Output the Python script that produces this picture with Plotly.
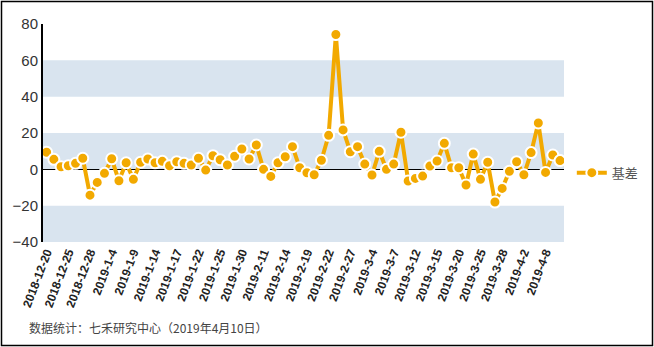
import plotly.graph_objects as go

dates = [
    "2018-12-20", "2018-12-21", "2018-12-24", "2018-12-25", "2018-12-26", "2018-12-27", "2018-12-28",
    "2019-1-2", "2019-1-3", "2019-1-4", "2019-1-7", "2019-1-8", "2019-1-9", "2019-1-10", "2019-1-11",
    "2019-1-14", "2019-1-15", "2019-1-16", "2019-1-17", "2019-1-18", "2019-1-21", "2019-1-22",
    "2019-1-23", "2019-1-24", "2019-1-25", "2019-1-28", "2019-1-29", "2019-1-30", "2019-1-31",
    "2019-2-1", "2019-2-11", "2019-2-12", "2019-2-13", "2019-2-14", "2019-2-15", "2019-2-18",
    "2019-2-19", "2019-2-20", "2019-2-21", "2019-2-22", "2019-2-25", "2019-2-26", "2019-2-27",
    "2019-2-28", "2019-3-1", "2019-3-4", "2019-3-5", "2019-3-6", "2019-3-7", "2019-3-8",
    "2019-3-11", "2019-3-12", "2019-3-13", "2019-3-14", "2019-3-15", "2019-3-18", "2019-3-19",
    "2019-3-20", "2019-3-21", "2019-3-22", "2019-3-25", "2019-3-26", "2019-3-27", "2019-3-28",
    "2019-3-29", "2019-4-1", "2019-4-2", "2019-4-3", "2019-4-4", "2019-4-8", "2019-4-9", "2019-4-10",
]

basis = [
    9.4, 5.5, 1.4, 2.0, 3.3, 6.1, -14.2, -7.2, -2.2, 5.8,
    -6.3, 3.6, -5.5, 3.9, 5.7, 3.6, 4.4, 2.0, 4.2, 3.3,
    2.4, 6.1, -0.4, 7.5, 5.3, 2.4, 7.2, 11.2, 5.7, 13.4,
    0.0, -3.9, 3.6, 6.9, 12.5, 0.9, -1.9, -3.0, 5.0, 18.7,
    74.2, 21.7, 9.7, 12.5, 2.9, -3.1, 9.9, 0.0, 2.9, 20.4,
    -6.4, -5.0, -3.7, 1.8, 4.6, 14.3, 0.9, 0.9, -8.6, 8.4,
    -5.5, 3.9, -18.0, -10.5, -1.1, 4.2, -3.0, 9.2, 25.5, -1.7,
    7.9, 4.8,
]

tick_labels = dates[0:70:3]
y_ticks = [-40, -20, 0, 20, 40, 60, 80]
bands = [(40, 60), (0, 20), (-40, -20)]

orange = "#F2A900"

fig = go.Figure()
fig.add_trace(go.Scatter(
    x=dates, y=basis, mode="lines+markers", name="基差",
    line=dict(color=orange, width=4),
    marker=dict(color=orange, size=11, line=dict(color="white", width=2)),
))

shapes = []
for lo, hi in bands:
    shapes.append(dict(type="rect", xref="paper", yref="y", x0=0, x1=1, y0=lo, y1=hi,
                       fillcolor="#D9E4EF", line=dict(width=0), layer="below"))
# outer frame
shapes.append(dict(type="rect", xref="paper", yref="paper",
                   x0=(1.5 - 43) / 521, x1=(652.5 - 43) / 521,
                   y0=(242 - 345.5) / 218, y1=(242 - 1.5) / 218,
                   line=dict(color="black", width=1.5), fillcolor="rgba(0,0,0,0)"))

fig.update_layout(
    width=654, height=347,
    margin=dict(l=43, r=90, t=24, b=105, autoexpand=False),
    paper_bgcolor="white", plot_bgcolor="white",
    shapes=shapes,
    showlegend=True,
    legend=dict(x=1.015, y=0.318, xanchor="left", yanchor="middle",
                font=dict(family="Noto Sans CJK SC", size=13, color="#555555"),
                bgcolor="rgba(0,0,0,0)", itemwidth=30),
    xaxis=dict(
        type="category", range=[-0.5, 71.55],
        tickmode="array", tickvals=tick_labels, ticktext=tick_labels,
        tickangle=-69, showgrid=False, showline=False, zeroline=False,
        tickfont=dict(family="Arial, Liberation Sans", size=12, color="#222222", weight="bold"),
        ticks="",
    ),
    yaxis=dict(
        range=[-40, 80], tickvals=y_ticks, showgrid=False,
        showline=True, linecolor="black", linewidth=2,
        zeroline=True, zerolinecolor="black", zerolinewidth=1,
        tickfont=dict(family="Arial, Liberation Sans", size=15, color="#333333"),
        ticks="",
    ),
    annotations=[dict(
        text="数据统计：七禾研究中心（2019年4月10日）",
        xref="paper", yref="paper", x=(27 - 43) / 521, y=(242 - 327) / 218,
        xanchor="left", yanchor="middle", showarrow=False,
        font=dict(family="Noto Sans CJK SC", size=12, color="#444444"),
    )],
)

fig.write_html("out.html")
